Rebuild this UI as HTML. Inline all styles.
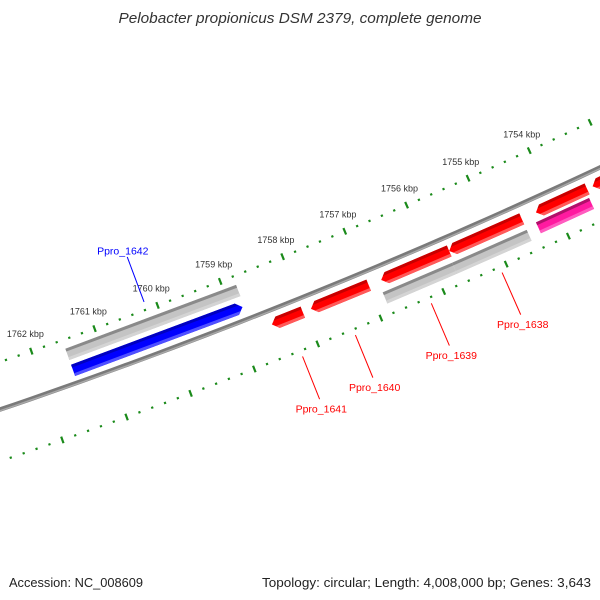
<!DOCTYPE html>
<html><head><meta charset="utf-8"><style>
html,body{margin:0;padding:0;background:#fff;}
svg{display:block;font-family:"Liberation Sans",sans-serif;}
</style></head><body>
<svg id="map" width="600" height="600" viewBox="0 0 600 600">
<text x="300" y="23" text-anchor="middle" font-size="14.5" font-style="italic" fill="#333" textLength="363" lengthAdjust="spacingAndGlyphs">Pelobacter propionicus DSM 2379, complete genome</text>
<text x="9" y="587" font-size="13" fill="#222" textLength="134" lengthAdjust="spacingAndGlyphs">Accession: NC_008609</text>
<text x="262" y="587" font-size="13" fill="#222" textLength="329" lengthAdjust="spacingAndGlyphs">Topology: circular; Length: 4,008,000 bp; Genes: 3,643</text>
<g id="ticks"></g><g id="backbone"></g><g id="genes"></g><g id="labels"></g>
</svg>
<script>
// data
const geneNames = ["Ppro_1642","Ppro_1641","Ppro_1640","Ppro_1639","Ppro_1638","Ppro_1637","Ppro_1636"];
const geneStarts = [1758.83,1758.03,1756.98,1755.69,1754.52,1753.46,1752.8];
const geneEnds = [1761.51,1758.52,1757.90,1756.78,1755.69,1754.29,1753.37];
const geneStrands = [1,-1,-1,-1,-1,-1,-1];
const geneLabeled = [true,true,true,true,true,false,false];
const grayStarts = [1758.80,1755.72,1754.52];
const grayEnds = [1761.51,1756.83,1755.72];
const grayTracks = ["inner","outer","outer"];
const otherStarts = [1753.49,1752.5];
const otherEnds = [1754.35,1753.30];
const otherColors = ["magenta","cyan"];
const tickMin = 1752;
const tickMax = 1764;
const tickLabels = ["1754 kbp","1755 kbp","1756 kbp","1757 kbp","1758 kbp","1759 kbp","1760 kbp","1761 kbp","1762 kbp"];
const tickLabelValues = [1754,1755,1756,1757,1758,1759,1760,1761,1762];

// geometry
const CX=-1871, CY=-5092, R=5811;
const A0=65.40, DEG_PER_KBP=0.667;
const ang = p => (A0 + (p-1754)*DEG_PER_KBP)*Math.PI/180;
const pt = (p,r) => [CX + r*Math.cos(ang(p)), CY + r*Math.sin(ang(p))];
const NS="http://www.w3.org/2000/svg";
function mk(tag, attrs, parent){const e=document.createElementNS(NS,tag);for(const k in attrs)e.setAttribute(k,attrs[k]);parent.appendChild(e);return e;}
const gT=document.getElementById('ticks'), gB=document.getElementById('backbone'), gG=document.getElementById('genes'), gL=document.getElementById('labels');

// backbone
let d="";
for(let p=1751;p<=1765;p+=0.25){const q=pt(p,R);d+=(d?"L":"M")+q[0].toFixed(2)+","+q[1].toFixed(2);}
let bb=mk('path',{d:d,fill:"none",stroke:"#7a7a7a","stroke-width":4.5},gB);


let bb2=mk('path',{d:d,fill:"none",stroke:"#a8a8a8","stroke-width":1.5,transform:"translate(0,1.2)"},gB);



// ticks
for(const ring of [5766,5860]){
  for(let i=Math.round(tickMin*5);i<=tickMax*5;i++){
    const p=i/5, major=(i%5===0);
    const len=major?3.5:1.1;
    const a=pt(p,ring-len), b=pt(p,ring+len);
    const t=mk('line',{x1:a[0],y1:a[1],x2:b[0],y2:b[1],stroke:"#1a8a1a","stroke-width":major?2.2:2.2},gT);
    
    
  }
}
tickLabels.forEach((lab,i)=>{
  const q=pt(tickLabelValues[i],5748);
  const t=mk('text',{x:q[0],y:q[1]+3,"text-anchor":"middle","font-size":9,fill:"#333"},gT);
  t.textContent=lab;
  
  
});

// feature shape
function band(p1,p2,rMid,h,tip,a,b){
  const TL=0.09, half=h/2;
  const tipX=(r)=>Math.abs(r-rMid)/half;
  let pts=[];
  const lo=p1, hi=p2;
  if(tip===1){
    const tp=r=>hi-(TL*tipX(r));
    pts=[pt(lo,a),pt(tp(a),a)];
    if(rMid>a&&rMid<b)pts.push(pt(hi,rMid));
    pts.push(pt(tp(b),b),pt(lo,b));
  }else if(tip===-1){
    const tp=r=>lo+(TL*tipX(r));
    pts=[pt(hi,a),pt(tp(a),a)];
    if(rMid>a&&rMid<b)pts.push(pt(lo,rMid));
    pts.push(pt(tp(b),b),pt(hi,b));
  }else{pts=[pt(lo,a),pt(hi,a),pt(hi,b),pt(lo,b)];}
  return pts.map(q=>q[0].toFixed(2)+","+q[1].toFixed(2)).join(" ");
}
function feature(p1,p2,rMid,h,tip,cols,name){
  const g=mk('g',{},gG);
  
  
  const a=rMid-h/2,b=rMid+h/2;
  mk('polygon',{points:band(p1,p2,rMid,h,tip,a,b),fill:cols[1]},g);
  mk('polygon',{points:band(p1,p2,rMid,h,tip,a,a+3),fill:cols[0]},g);
  mk('polygon',{points:band(p1,p2,rMid,h,tip,b-3,b),fill:cols[2]},g);
}
const RED=["#c80000","#ff0000","#ff5a5a"], BLUE=["#0000c0","#0000ff","#5050ff"], GRAY=["#8a8a8a","#c4c4c4","#d4d4d4"];
grayStarts.forEach((s,i)=>feature(s,grayEnds[i],grayTracks[i]==="inner"?5781:5843,12,0,GRAY,'gray-feature'));
otherStarts.forEach((s,i)=>feature(s,otherEnds[i],5840,12,0,otherColors[i]==="magenta"?["#b0106a","#ff1aa0","#ff5cc0"]:["#00b0c0","#00e0f0","#60f0ff"],otherColors[i]+'-feature'));
geneNames.forEach((n,i)=>{
  const blue=geneStrands[i]>0;
  feature(geneStarts[i],geneEnds[i],blue?5798:5825,12,blue?-1:1,blue?BLUE:RED,'gene-'+n.toLowerCase().replace('_','-'));
  if(!geneLabeled[i])return;
  const mid=(geneStarts[i]+geneEnds[i])/2, col=blue?"#0000ff":"#ff0000";
  const r1=blue?5758:5866, r2=blue?5710:5912, rt=blue?5703:5922;
  const a=pt(mid,r1), b=pt(mid,r2), c=pt(mid,rt);
  const l=mk('line',{x1:a[0],y1:a[1],x2:b[0],y2:b[1],stroke:col,"stroke-width":1},gL);
  
  
  const t=mk('text',{x:c[0]-2,y:c[1]+4,"text-anchor":"middle","font-size":10.5,fill:col},gL);
  t.textContent=n;
  
  
});
</script>
</body></html>
